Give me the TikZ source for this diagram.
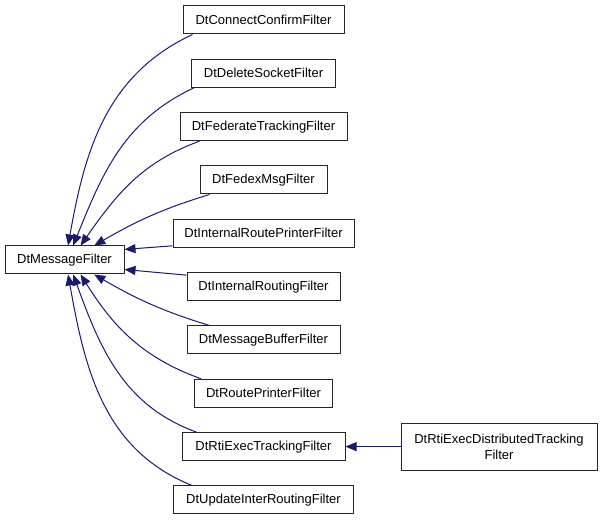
\documentclass[tikz,border=0pt]{standalone}
\usepackage{fontspec}
\setmainfont{Liberation Sans}
\usepackage{xcolor}
\definecolor{dxblue}{HTML}{191970}
\usetikzlibrary{positioning,arrows.meta}

\begin{document}
\begin{tikzpicture}[x=1pt,y=1pt,node distance=24.33pt,font=\fontsize{13}{16}\selectfont]
    \tikzstyle{cls} = [rectangle, minimum height=28pt, inner sep=0pt, text centered, draw=black!85, line width=1pt, fill=white]
    \tikzstyle{edge} = [draw=dxblue, line width=1pt, {Triangle[length=11pt,width=9pt,fill=dxblue]}-]
    \useasboundingbox (0,0) rectangle (605,520);
    \node (p0)  [cls, minimum width=119pt] at (64.5,260) {DtMessageFilter};
    \node (c1)  [cls, minimum width=161pt] at (263.5,500) {DtConnectConfirmFilter};
    \node (c2)  [cls, minimum width=144pt, below=of c1] {DtDeleteSocketFilter};
    \node (c3)  [cls, minimum width=167pt, below=of c2] {DtFederateTrackingFilter};
    \node (c4)  [cls, minimum width=127pt, below=of c3] {DtFedexMsgFilter};
    \node (c5)  [cls, minimum width=181pt, below=of c4] {DtInternalRoutePrinterFilter};
    \node (c6)  [cls, minimum width=153pt, below=of c5] {DtInternalRoutingFilter};
    \node (c7)  [cls, minimum width=153pt, below=of c6] {DtMessageBufferFilter};
    \node (c8)  [cls, minimum width=138pt, below=of c7] {DtRoutePrinterFilter};
    \node (c9)  [cls, minimum width=163pt, below=of c8] {DtRtiExecTrackingFilter};
    \node (c10) [cls, minimum width=180pt, below=of c9] {DtUpdateInterRoutingFilter};
    \node (g1)  [cls, minimum width=196pt, minimum height=47pt, align=center, right=55pt of c9] {DtRtiExecDistributedTracking\\Filter};
    % inheritance arrows
    \draw[edge] (p0.76) to[out=80,in=205] ([xshift=10pt]c1.south west);
    \draw[edge] (p0.59) to[out=68,in=205] ([xshift=3pt]c2.south west);
    \draw[edge] (p0.42) to[out=55,in=200] ([xshift=20pt]c3.south west);
    \draw[edge] (p0.26) to[out=30,in=197] ([xshift=10pt]c4.south west);
    \draw[edge] (p0.10) -- ([yshift=2pt]c5.south west);
    \draw[edge] (p0.-9) -- ([yshift=-3pt]c6.north west);
    \draw[edge] (p0.-26) to[out=-30,in=163] ([xshift=23pt]c7.north west);
    \draw[edge] (p0.-42) to[out=-58,in=160] ([xshift=7pt]c8.north west);
    \draw[edge] (p0.-59) to[out=-70,in=160] ([xshift=15pt]c9.north west);
    \draw[edge] (p0.-76) to[out=-80,in=158] ([xshift=19pt]c10.north west);
    \draw[edge] (c9) -- (g1);
\end{tikzpicture}
\end{document}
